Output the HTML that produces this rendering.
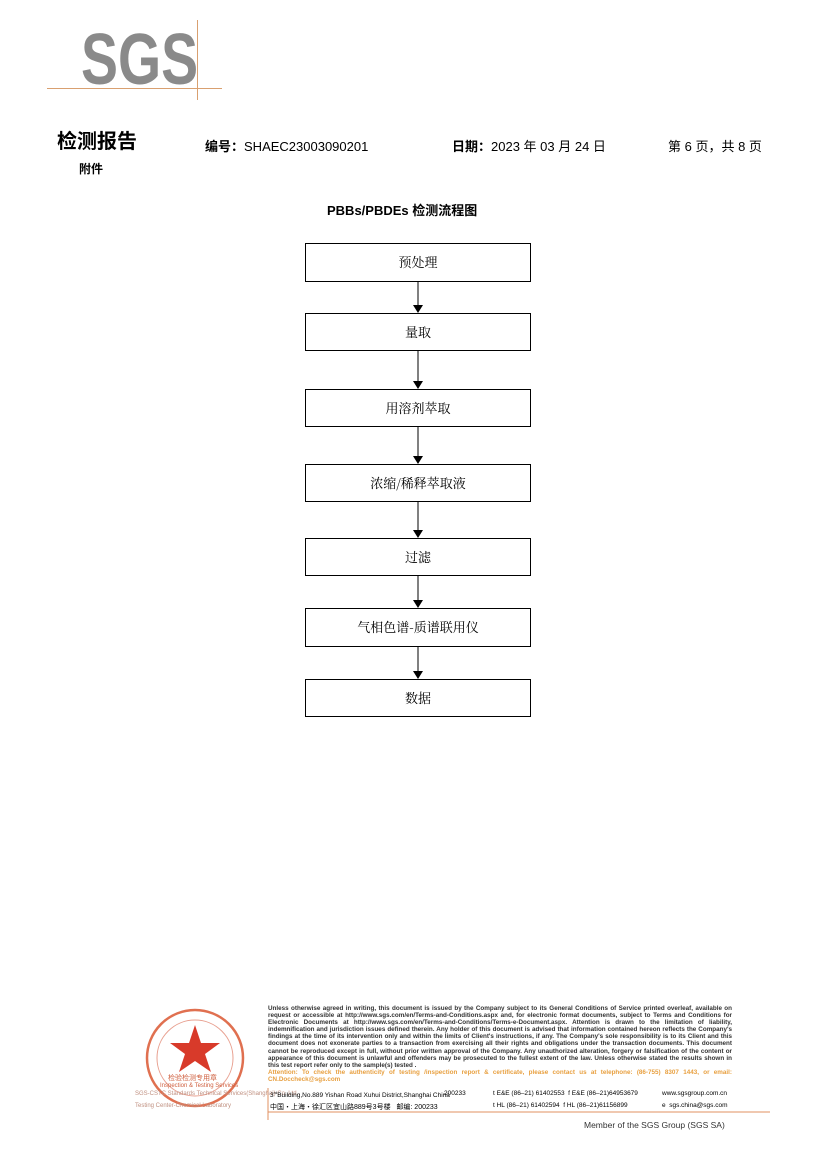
<!DOCTYPE html>
<html><head><meta charset="utf-8"><style>
body{margin:0;width:826px;height:1169px;background:#fff;position:relative;font-family:"Liberation Sans","Noto Sans CJK SC",sans-serif;overflow:hidden}
.a{position:absolute;white-space:nowrap}
.box{position:absolute;left:305px;width:226px;border:1px solid #000;box-sizing:border-box;display:flex;align-items:center;justify-content:center;font-size:13px;font-family:"Noto Serif CJK SC","Liberation Serif",serif;padding-bottom:2px}
.ft{position:absolute;left:268px;width:464px;font-size:6.3px;line-height:7.1px;text-align:justify;font-weight:bold;color:#333}
</style></head><body>
<div class="a" style="left:81px;top:20px;font-size:72px;font-weight:bold;color:#8a8a8a;transform:scaleX(0.77);transform-origin:left;line-height:80px">SGS</div>
<div class="a" style="left:47px;top:88px;width:175px;height:1px;background:#d9a070"></div>
<div class="a" style="left:197px;top:20px;width:1px;height:80px;background:#d9a070"></div>
<div class="a" style="left:57px;top:125px;font-size:20px;font-weight:bold">检测报告</div>
<div class="a" style="left:79px;top:160px;font-size:12px;font-weight:bold">附件</div>
<div class="a" style="left:205px;top:136px;font-size:13px"><b>编号：</b>SHAEC23003090201</div>
<div class="a" style="left:452px;top:136px;font-size:13px"><b>日期：</b>2023 年 03 月 24 日</div>
<div class="a" style="left:668px;top:136px;font-size:13px">第 6 页，共 8 页</div>
<div class="a" style="left:327px;top:200px;font-size:13px;font-weight:bold">PBBs/PBDEs 检测流程图</div>
<div class="box" style="top:243px;height:39px">预处理</div>
<div class="box" style="top:313px;height:38px">量取</div>
<div class="box" style="top:389px;height:38px">用溶剂萃取</div>
<div class="box" style="top:464px;height:38px">浓缩/稀释萃取液</div>
<div class="box" style="top:538px;height:38px">过滤</div>
<div class="box" style="top:608px;height:39px">气相色谱-质谱联用仪</div>
<div class="box" style="top:679px;height:38px">数据</div>
<svg class="a" style="left:0;top:0" width="826" height="1169">
<defs><marker id="m" markerWidth="8" markerHeight="10" refX="7" refY="5" orient="auto" markerUnits="userSpaceOnUse"><path d="M0,0L8,5L0,10z"/></marker></defs>
<g stroke="#000" stroke-width="1" marker-end="url(#m)">
<line x1="418" y1="282" x2="418" y2="312"/><line x1="418" y1="351" x2="418" y2="388"/>
<line x1="418" y1="427" x2="418" y2="463"/><line x1="418" y1="502" x2="418" y2="537"/>
<line x1="418" y1="576" x2="418" y2="607"/><line x1="418" y1="647" x2="418" y2="678"/>
</g>
<circle cx="195" cy="1058" r="48" fill="none" stroke="#e07050" stroke-width="2.5"/>
<circle cx="195" cy="1058" r="38" fill="none" stroke="#e8a090" stroke-width="1"/>
<polygon points="195,1025 201,1043 220,1043 205,1054 211,1072 195,1061 179,1072 185,1054 170,1043 189,1043" fill="#d83a2a"/>
<line x1="268" y1="1112" x2="770" y2="1112" stroke="#e09060" stroke-width="1"/>
<line x1="268" y1="1088" x2="268" y2="1120" stroke="#e09060" stroke-width="1"/>
</svg>
<div class="a" style="left:168px;top:1073px;font-size:7px;color:#d06040">检验检测专用章</div>
<div class="a" style="left:160px;top:1083px;font-size:6px;color:#d06040">Inspection &amp; Testing Services</div>
<div class="a" style="left:135px;top:1091px;font-size:6px;color:#c09080">SGS-CSTC Standards Technical Services(Shanghai) Co.,Ltd.</div>
<div class="a" style="left:135px;top:1103px;font-size:6px;color:#c09080">Testing Center-Chemical Laboratory</div>
<div class="ft" style="top:1005px">Unless otherwise agreed in writing, this document is issued by the Company subject to its General Conditions of Service printed overleaf, available on request or accessible at http://www.sgs.com/en/Terms-and-Conditions.aspx and, for electronic format documents, subject to Terms and Conditions for Electronic Documents at http://www.sgs.com/en/Terms-and-Conditions/Terms-e-Document.aspx. Attention is drawn to the limitation of liability, indemnification and jurisdiction issues defined therein. Any holder of this document is advised that information contained hereon reflects the Company's findings at the time of its intervention only and within the limits of Client's instructions, if any. The Company's sole responsibility is to its Client and this document does not exonerate parties to a transaction from exercising all their rights and obligations under the transaction documents. This document cannot be reproduced except in full, without prior written approval of the Company. Any unauthorized alteration, forgery or falsification of the content or appearance of this document is unlawful and offenders may be prosecuted to the fullest extent of the law. Unless otherwise stated the results shown in this test report refer only to the sample(s) tested .<br><span style="color:#e8a040">Attention: To check the authenticity of testing /inspection report &amp; certificate, please contact us at telephone: (86-755) 8307 1443, or email: CN.Doccheck@sgs.com</span></div>
<div class="a" style="left:270px;top:1090px;font-size:6.5px">3<sup style="font-size:4px">rd</sup>Building,No.889 Yishan Road Xuhui District,Shanghai China</div>
<div class="a" style="left:444px;top:1090px;font-size:6.5px">200233</div>
<div class="a" style="left:493px;top:1090px;font-size:6.5px">t E&amp;E (86–21) 61402553 &nbsp;f E&amp;E (86–21)64953679</div>
<div class="a" style="left:662px;top:1090px;font-size:6.5px">www.sgsgroup.com.cn</div>
<div class="a" style="left:270px;top:1102px;font-size:7px">中国・上海・徐汇区宜山路889号3号楼 &nbsp; 邮编: 200233</div>
<div class="a" style="left:493px;top:1102px;font-size:6.5px">t HL (86–21) 61402594 &nbsp;f HL (86–21)61156899</div>
<div class="a" style="left:662px;top:1102px;font-size:6.5px">e &nbsp;sgs.china@sgs.com</div>
<div class="a" style="left:584px;top:1120px;font-size:8.5px;color:#333">Member of the SGS Group (SGS SA)</div>
</body></html>
